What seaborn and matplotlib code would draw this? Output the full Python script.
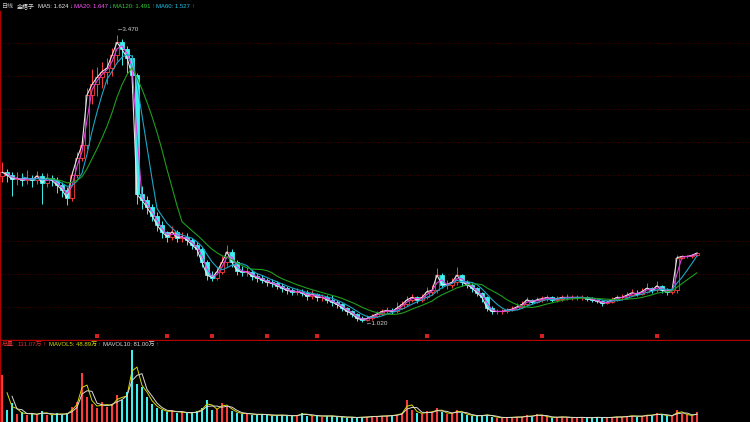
import numpy as np
import pandas as pd
import matplotlib
matplotlib.use("Agg")
import matplotlib.pyplot as plt
import matplotlib.transforms as mtransforms
import seaborn as sns

# ---------------- data (one bar ~ several sessions) ---------------- #
closes = [2.30, 2.28, 2.24, 2.25, 2.23, 2.25, 2.23, 2.27, 2.21, 2.25,
          2.23, 2.19, 2.15, 2.08, 2.28, 2.42, 2.53, 2.96, 3.05, 3.11,
          3.16, 3.19, 3.30, 3.41, 3.35, 3.28, 3.13, 2.11, 2.06, 2.00,
          1.93, 1.85, 1.79, 1.75, 1.79, 1.74, 1.75, 1.72, 1.68, 1.64,
          1.53, 1.42, 1.40, 1.45, 1.53, 1.62, 1.53, 1.46, 1.45, 1.45,
          1.41, 1.40, 1.38, 1.36, 1.35, 1.33, 1.31, 1.29, 1.28, 1.28,
          1.27, 1.24, 1.26, 1.23, 1.23, 1.21, 1.19, 1.17, 1.14, 1.11,
          1.09, 1.05, 1.04, 1.05, 1.07, 1.09, 1.11, 1.12, 1.11, 1.14,
          1.17, 1.21, 1.23, 1.21, 1.23, 1.28, 1.29, 1.42, 1.34, 1.34,
          1.36, 1.42, 1.36, 1.34, 1.31, 1.27, 1.23, 1.14, 1.11, 1.11,
          1.11, 1.12, 1.13, 1.15, 1.17, 1.21, 1.19, 1.21, 1.22, 1.23,
          1.21, 1.22, 1.23, 1.23, 1.23, 1.23, 1.23, 1.22, 1.21, 1.20,
          1.18, 1.19, 1.21, 1.23, 1.23, 1.25, 1.27, 1.26, 1.28, 1.31,
          1.29, 1.33, 1.29, 1.28, 1.29, 1.57, 1.58, 1.58, 1.59, 1.61]
highs = [2.39, 2.33, 2.30, 2.30, 2.29, 2.32, 2.28, 2.31, 2.29, 2.29,
         2.28, 2.26, 2.22, 2.17, 2.31, 2.47, 2.60, 3.02, 3.18, 3.20,
         3.24, 3.28, 3.36, 3.47, 3.44, 3.38, 3.30, 3.15, 2.18, 2.10,
         2.03, 1.96, 1.88, 1.80, 1.84, 1.81, 1.79, 1.78, 1.74, 1.70,
         1.66, 1.55, 1.46, 1.49, 1.58, 1.68, 1.64, 1.55, 1.50, 1.49,
         1.47, 1.44, 1.42, 1.40, 1.39, 1.37, 1.35, 1.33, 1.31, 1.31,
         1.30, 1.29, 1.29, 1.27, 1.26, 1.25, 1.25, 1.21, 1.18, 1.15,
         1.12, 1.10, 1.07, 1.08, 1.09, 1.11, 1.13, 1.15, 1.14, 1.19,
         1.20, 1.24, 1.26, 1.24, 1.26, 1.32, 1.34, 1.48, 1.44, 1.38,
         1.40, 1.49, 1.43, 1.38, 1.35, 1.32, 1.28, 1.24, 1.16, 1.13,
         1.13, 1.14, 1.16, 1.18, 1.20, 1.23, 1.22, 1.23, 1.24, 1.25,
         1.24, 1.24, 1.25, 1.26, 1.25, 1.25, 1.25, 1.24, 1.23, 1.22,
         1.21, 1.21, 1.23, 1.25, 1.26, 1.28, 1.30, 1.29, 1.31, 1.35,
         1.32, 1.37, 1.34, 1.31, 1.31, 1.59, 1.59, 1.59, 1.60, 1.62]
lows = [2.22, 2.22, 2.10, 2.19, 2.18, 2.20, 2.17, 2.20, 2.03, 2.17,
        2.18, 2.12, 2.09, 2.02, 2.05, 2.25, 2.40, 2.50, 2.88, 2.95,
        3.02, 3.05, 3.12, 3.25, 3.22, 3.15, 2.98, 2.03, 1.99, 1.94,
        1.88, 1.80, 1.74, 1.70, 1.72, 1.70, 1.70, 1.68, 1.64, 1.58,
        1.49, 1.38, 1.37, 1.38, 1.43, 1.50, 1.49, 1.42, 1.41, 1.41,
        1.38, 1.36, 1.35, 1.33, 1.32, 1.30, 1.28, 1.26, 1.25, 1.25,
        1.24, 1.21, 1.22, 1.20, 1.20, 1.18, 1.16, 1.14, 1.11, 1.08,
        1.06, 1.03, 1.02, 1.03, 1.04, 1.06, 1.08, 1.09, 1.09, 1.10,
        1.13, 1.16, 1.19, 1.18, 1.19, 1.22, 1.25, 1.27, 1.31, 1.30,
        1.31, 1.34, 1.33, 1.31, 1.28, 1.24, 1.19, 1.11, 1.09, 1.09,
        1.09, 1.10, 1.11, 1.12, 1.14, 1.16, 1.17, 1.18, 1.19, 1.20,
        1.19, 1.19, 1.20, 1.21, 1.21, 1.21, 1.21, 1.20, 1.19, 1.18,
        1.16, 1.17, 1.18, 1.20, 1.21, 1.22, 1.24, 1.24, 1.25, 1.27,
        1.27, 1.28, 1.27, 1.25, 1.26, 1.27, 1.56, 1.57, 1.57, 1.58]
first_open = 2.27

# volume in 万
volumes = [625, 160, 250, 110, 130, 95, 120, 90, 145, 100,
           90, 120, 95, 115, 200, 265, 655, 330, 240, 185,
           265, 200, 240, 360, 295, 400, 960, 505, 470, 330,
           240, 185, 155, 130, 160, 120, 140, 115, 125, 145,
           185, 295, 160, 180, 250, 200, 145, 120, 110, 115,
           100, 95, 110, 90, 85, 95, 90, 85, 80, 90,
           125, 85, 80, 90, 70, 85, 80, 65, 70, 60,
           65, 55, 70, 65, 80, 70, 85, 80, 90, 100,
           125, 295, 160, 120, 110, 145, 125, 185, 130, 110,
           120, 160, 115, 95, 85, 80, 90, 100, 70, 60,
           55, 65, 60, 70, 65, 90, 70, 110, 80, 65,
           60, 65, 70, 60, 55, 65, 60, 55, 60, 65,
           55, 60, 65, 70, 65, 80, 85, 70, 80, 100,
           85, 120, 90, 80, 85, 160, 110, 90, 85, 131]

event_bars = [19, 33, 42, 53, 63, 85, 108, 131]

ma_windows = {"MA5": 1, "MA20": 2, "MA60": 5, "MA120": 10}
ma_colors = {"MA5": "#e6e6e6", "MA20": "#e040e0", "MA60": "#1aa6c8", "MA120": "#1e9e1e"}
vol_windows = {"MAVOL5": 2, "MAVOL10": 3}
vol_colors = {"MAVOL5": "#d8d800", "MAVOL10": "#d8d8d8"}

UP = "#ff3c3c"
DOWN = "#3cf0f0"

# header pieces: text, colour, gap (px) before the piece
price_header = [("日线", "#c8c8c8", 0), ("金梧子", "#e8e8e8", 3),
                ("MA5: 1.624", "#e8e8e8", 3), ("↓", DOWN, 0.5),
                ("MA20: 1.647", "#ff55ff", 2), ("↓", DOWN, 0.5),
                ("MA120: 1.491", "#33cc33", 2), ("↑", UP, 0.5),
                ("MA60: 1.527", "#22c4e8", 2), ("↑", UP, 0.5)]
vol_header = [("总量:", "#e03030", 0), ("131.07万", "#e03030", 2), ("↑", UP, 0.5),
              ("MAVOL5: 48.89万", "#d8d800", 3), ("↑", UP, 0.5),
              ("MAVOL10: 81.00万", "#d8d8d8", 3), ("↑", UP, 0.5)]

# ---------------- build frame ---------------- #
df = pd.DataFrame({"close": closes, "high": highs, "low": lows, "vol": volumes})
df["open"] = [first_open] + closes[:-1]
df["idx"] = np.arange(len(df))
up = df["close"] >= df["open"]
edge = np.where(up, UP, DOWN)
face = np.where(up, "black", DOWN)

sns.set_theme(style="dark", rc={"axes.facecolor": "black", "figure.facecolor": "black",
                                "savefig.facecolor": "black"})
plt.rcParams["font.family"] = ["Liberation Sans", "Noto Sans CJK SC", "DejaVu Sans"]

W, H = 750, 422
fig = plt.figure(figsize=(W / 100, H / 100), dpi=100)
ax = fig.add_axes([0, 1 - 340 / H, 1, (340 - 10.5) / H])
axv = fig.add_axes([0, 0, 1, 81 / H])

# pixel 2 -> bar 0, 5 px per bar
ax.set_xlim(-0.4, 149.6)
axv.set_xlim(-0.4, 149.6)
y_top = 1.02 + (322 - 10.5) / 117
y_bot = 1.02 + (322 - 340) / 117
ax.set_ylim(y_bot, y_top)

# candles
ax.vlines(df["idx"], df["low"], df["high"], colors=edge, lw=0.7, zorder=2)
body = (df["close"] - df["open"]).abs().clip(lower=0.006)
ax.bar(df["idx"], body, bottom=np.minimum(df["open"], df["close"]), width=0.7,
       color=face, edgecolor=edge, linewidth=0.6, zorder=3)

# moving averages
long = pd.concat([pd.DataFrame({"idx": df["idx"],
                                "value": df["close"].rolling(w).mean(),
                                "ma": name}) for name, w in ma_windows.items()])
long = long.dropna()
sns.lineplot(data=long, x="idx", y="value", hue="ma", palette=ma_colors, lw=0.8,
             estimator=None, legend=False, ax=ax, zorder=4)

# high / low marks
imax = int(df["high"].idxmax())
imin = int(df["low"].idxmin())
ax.annotate(f"←{df['high'].max():.3f}", xy=(imax, df["high"].max()), xytext=(-0.5, 4.5),
            textcoords="offset points", color="#d0d0d0", fontsize=4.6, va="center", ha="left")
ax.annotate(f"←{df['low'].min():.3f}", xy=(imin, df["low"].min()), xytext=(2.5, -0.8),
            textcoords="offset points", color="#d0d0d0", fontsize=4.6, va="center", ha="left")

# event markers on the bottom edge
trans = mtransforms.blended_transform_factory(ax.transData, ax.transAxes)
ax.scatter(event_bars, [0.012] * len(event_bars), marker="s", s=7, color="#d42020",
           linewidths=0, transform=trans, zorder=6, clip_on=False)

# grid and frame
ax.set_yticks(np.linspace(y_bot, y_top, 11)[1:-1])
ax.yaxis.grid(True, color="#5c0000", ls=(0, (1, 2)), lw=0.6)
ax.xaxis.grid(False)
for a in (ax, axv):
    a.tick_params(left=False, bottom=False, labelleft=False, labelbottom=False)
    a.set_xlabel("")
    a.set_ylabel("")
    for s in ("top", "right"):
        a.spines[s].set_visible(False)
    a.spines["left"].set_color("#b00000")
    a.spines["left"].set_linewidth(1.0)
ax.spines["bottom"].set_color("#b00000")
ax.spines["bottom"].set_linewidth(1.0)
axv.spines["bottom"].set_visible(False)

# volume panel
axv.bar(df["idx"], df["vol"], width=0.55, color=np.where(up, UP, DOWN), linewidth=0)
axv.set_ylim(0, 1080)
vlong = pd.concat([pd.DataFrame({"idx": df["idx"],
                                 "value": df["vol"].rolling(w).mean(),
                                 "ma": name}) for name, w in vol_windows.items()]).dropna()
sns.lineplot(data=vlong, x="idx", y="value", hue="ma", palette=vol_colors, lw=0.7,
             estimator=None, legend=False, ax=axv)
axv.yaxis.grid(False)
axv.xaxis.grid(False)
axv.set_xlabel("")
axv.set_ylabel("")

# headers, laid out left to right
renderer = fig.canvas.get_renderer()


def header_row(pieces, y_px):
    x = 2.0
    for txt, col, gap in pieces:
        x += gap
        t = fig.text(x / W, 1 - y_px / H, txt, color=col, fontsize=4.3, va="center", ha="left")
        x += t.get_window_extent(renderer).width


header_row(price_header, 6.5)
header_row(vol_header, 344)

fig.savefig("out.png", dpi=100, facecolor="black")
